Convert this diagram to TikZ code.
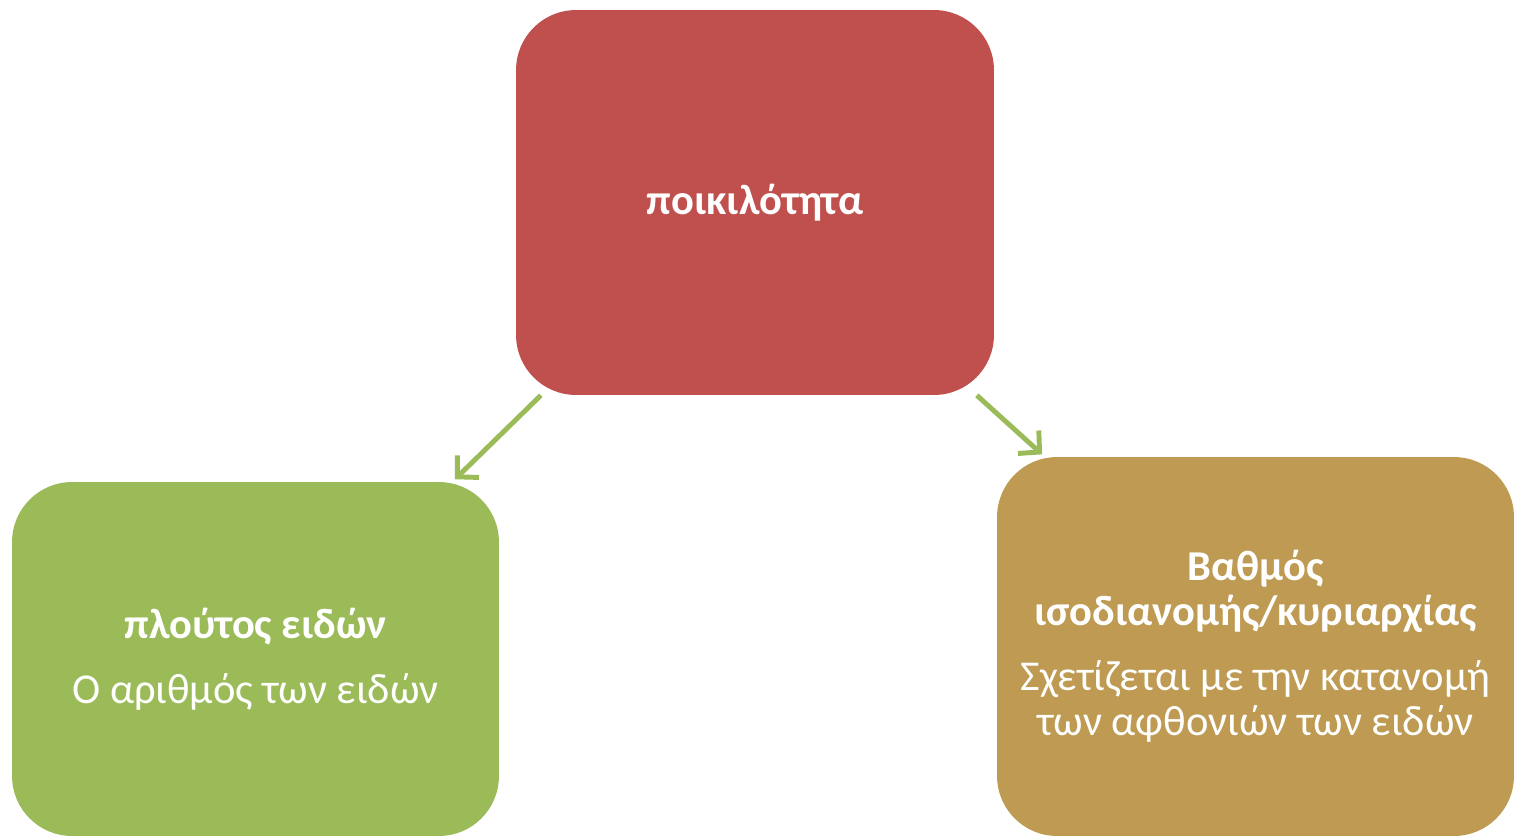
\documentclass[tikz,border=0pt]{standalone}
\usepackage{fontspec}
\setmainfont{Carlito}
\usetikzlibrary{arrows.meta,shapes}
\definecolor{boxred}{HTML}{C0504D}
\definecolor{boxgreen}{HTML}{9BBB59}
\definecolor{boxtan}{HTML}{BE9A52}
\tikzstyle{box}=[rectangle,rounded corners=1.2cm,text=white,align=center,inner sep=0pt,font=\fontsize{24.2}{25.6}\selectfont]
\tikzstyle{edge} = [draw,line width=2.8pt,boxgreen,shorten >=2pt,-{Straight Barb[length=3mm,width=6.2mm]}]

\begin{document}
\begin{tikzpicture}[x=0.02cm,y=-0.02cm]

    \useasboundingbox (0,0) rectangle (1514,836);

    \node[box, fill=boxred, minimum width=9.56cm, minimum height=7.7cm] (div) at (755,202.5)
        {\bfseries ποικιλότητα};

    \node[box, fill=boxgreen, minimum width=9.74cm, minimum height=7.08cm] (rich) at (255.5,659)
        {\bfseries πλούτος ειδών\\[0.4cm]
         \mdseries Ο αριθμός των ειδών};

    \node[box, fill=boxtan, minimum width=10.34cm, minimum height=7.58cm] (even) at (1255.5,646.5)
        {\bfseries Βαθμός\\ \bfseries ισοδιανομής/κυριαρχίας\\[0.4cm]
         \mdseries Σχετίζεται με την κατανομή\\ \mdseries των αφθονιών των ειδών};

    \foreach \source/ \dest in {div.222/rich.42, div.319.2/even.138}
        \path[edge] (\source) -- (\dest);

\end{tikzpicture}
\end{document}
